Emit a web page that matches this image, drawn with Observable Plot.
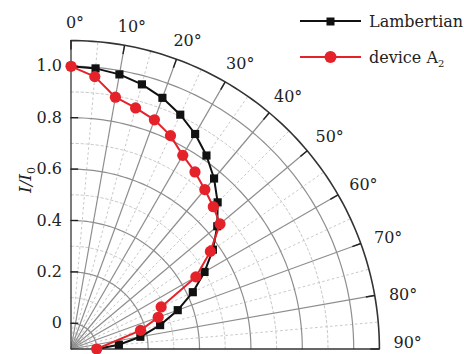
<!DOCTYPE html>
<html><head><meta charset="utf-8">
<script src="https://cdn.jsdelivr.net/npm/d3@7"></script>
<script src="https://cdn.jsdelivr.net/npm/@observablehq/plot@0.6"></script>
<style>
body{margin:0;background:#fff;}
#wrap{position:relative;width:464px;height:354px;font-family:"DejaVu Serif",serif;}
.leg{position:absolute;left:300px;height:16px;display:flex;align-items:center;font-size:16px;color:#222;white-space:nowrap;}
.leg svg{margin-right:7px;flex:none;}
.leg .sub{font-size:10px;position:relative;top:4px;}
</style></head><body><div id="wrap"></div>
<script>
// ---- data ----
const lambAngles = [0,5,10,15,20,25,30,35,40,45,50,55,60,65,70,75,80,85,90];
const lambertian = [1.0,0.996,0.985,0.966,0.94,0.906,0.866,0.819,0.766,0.707,0.643,0.574,0.5,0.423,0.342,0.259,0.174,0.087,0.0];
const devAngles = [0,5,10,15,20,25,30,35,40,45,50,55,60,65,70,75,90];
const deviceA2 = [1.0,0.964,0.895,0.871,0.849,0.816,0.77,0.741,0.71,0.683,0.657,0.562,0.461,0.287,0.261,0.18,0.0];
const angleTicks = [0,10,20,30,40,50,60,70,80,90];
const radialTicks = [0,0.2,0.4,0.6,0.8,1.0];
const seriesNames = ["Lambertian","device A2"];
const seriesColors = ["#111111","#e5222a"];

// ---- polar geometry ----
const R0 = 0.1;      // radial axis starts at -0.1 at the centre
const RMAX = 1.1;    // outer ring value
const rad = d => d*Math.PI/180;
const toXY = (deg, r) => ({x: -R0 + (r+R0)*Math.sin(rad(deg)), y: -R0 + (r+R0)*Math.cos(rad(deg))});

const lamb = lambAngles.map((a,i) => toXY(a, lambertian[i]));
const dev = devAngles.map((a,i) => toXY(a, deviceA2[i]));

const arcDegs = d3.range(0, 90.01, 1);
const levels = d3.range(0, 11).map(i => i/10);
const arcPts = levels.flatMap(l => arcDegs.map(d => ({...toXY(d,l), level:l, major: Math.round(l*10)%2===0})));
const outerArc = arcDegs.map(d => toXY(d, RMAX));
const spokeDegs = d3.range(5, 90, 5);
const spokes = spokeDegs.map(d => { const p = toXY(d, RMAX); return {deg:d, major:d%10===0, x1:-R0, y1:-R0, x2:p.x, y2:p.y}; });
const tickLen = 9/257;
const outerTicks = angleTicks.map(a => { const p = toXY(a, RMAX), q = toXY(a, RMAX - tickLen); return {x1:p.x,y1:p.y,x2:q.x,y2:q.y}; });
// labels sit just outside the outer ring
const angleLabels = angleTicks.map(a => {
  const rr = 1.27 + 0.04*Math.sin(rad(a)) - R0;
  const aa = a < 90 ? a + 0.7 : a - 1.0;
  return {...toXY(aa, rr), text: a + "°"};
});

const chart = Plot.plot({
  width: 464, height: 354,
  marginLeft: 70.5, marginRight: 85.1, marginTop: 40.1, marginBottom: 5.5,
  x: {domain: [-R0, RMAX], axis: null},
  y: {domain: [-R0, RMAX], axis: null},
  style: {fontFamily: '"DejaVu Serif", serif', background: "transparent", overflow: "visible"},
  marks: [
    Plot.line(arcPts.filter(d => !d.major), {x:"x", y:"y", z:"level", stroke:"#c8c8c8", strokeWidth:1, strokeDasharray:"2.5,2.5"}),
    Plot.link(spokes.filter(d => !d.major), {x1:"x1", y1:"y1", x2:"x2", y2:"y2", stroke:"#c8c8c8", strokeWidth:1, strokeDasharray:"2.5,2.5"}),
    Plot.line(arcPts.filter(d => d.major), {x:"x", y:"y", z:"level", stroke:"#8e8e8e", strokeWidth:1.2}),
    Plot.link(spokes.filter(d => d.major), {x1:"x1", y1:"y1", x2:"x2", y2:"y2", stroke:"#8e8e8e", strokeWidth:1.2}),
    Plot.line(outerArc, {x:"x", y:"y", stroke:"#333", strokeWidth:1.6}),
    Plot.ruleX([-R0], {y1:-R0, y2:RMAX, stroke:"#333", strokeWidth:1.3}),
    Plot.ruleY([-R0], {x1:-R0, x2:RMAX, stroke:"#333", strokeWidth:1.3}),
    Plot.link(outerTicks, {x1:"x1", y1:"y1", x2:"x2", y2:"y2", stroke:"#222", strokeWidth:1.4}),
    Plot.ruleY(radialTicks, {x1:-R0, x2:-R0+tickLen*0.85, stroke:"#222", strokeWidth:1.4}),
    Plot.text(radialTicks, {x:-R0, y:d=>d, text:d => d===0 ? "0" : d.toFixed(1), textAnchor:"end", dx:-9, fontSize:16, fill:"#222"}),
    Plot.text(angleLabels, {x:"x", y:"y", text:"text", fontSize:16, fill:"#222", textAnchor:"middle"}),
    Plot.line(lamb, {x:"x", y:"y", stroke:seriesColors[0], strokeWidth:2}),
    Plot.dot(lamb, {x:"x", y:"y", symbol:"square", r:4.6, fill:seriesColors[0]}),
    Plot.line(dev, {x:"x", y:"y", stroke:seriesColors[1], strokeWidth:2}),
    Plot.dot(dev, {x:"x", y:"y", symbol:"circle", r:5.6, fill:seriesColors[1]})
  ]
});

const wrap = document.getElementById("wrap");
wrap.appendChild(chart);

// y-axis title  I/I0
const svg = d3.select(chart);
const t = svg.append("text")
  .attr("transform", "translate(31,180) rotate(-90)")
  .attr("text-anchor", "middle")
  .attr("font-family", '"DejaVu Serif", serif')
  .attr("font-style", "italic")
  .attr("font-size", 17)
  .attr("fill", "#222");
t.append("tspan").text("I/I");
t.append("tspan").attr("font-size", 11).attr("dy", 4).attr("font-style","normal").text("0");

// legend
const legTops = [13, 49];
seriesNames.forEach((name, i) => {
  const div = document.createElement("div");
  div.className = "leg";
  div.style.top = legTops[i] + "px";
  const marker = i === 0
    ? `<rect x="26.5" y="4.5" width="8" height="8" fill="${seriesColors[0]}"/>`
    : `<circle cx="30.5" cy="8" r="6" fill="${seriesColors[1]}"/>`;
  const label = i === 0 ? name : `${name.slice(0, -1)}<span class="sub">${name.slice(-1)}</span>`;
  div.innerHTML = `<svg width="62" height="16"><line x1="0" y1="8" x2="61" y2="8" stroke="${seriesColors[i]}" stroke-width="2"/>${marker}</svg><span>${label}</span>`;
  wrap.appendChild(div);
});
</script></body></html>
